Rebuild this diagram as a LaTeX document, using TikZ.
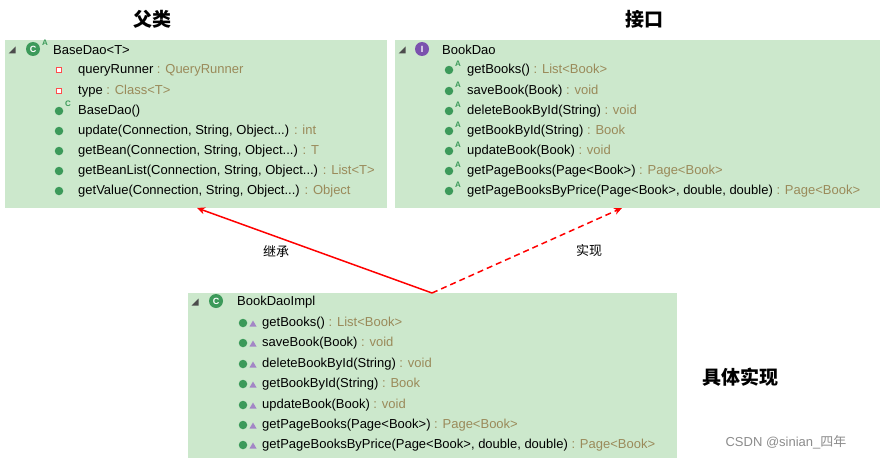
\documentclass[tikz,border=0pt]{standalone}
\usepackage{fontspec}
\setmainfont{Liberation Sans}
\newfontfamily\cjk{Noto Sans CJK SC}
\usetikzlibrary{arrows.meta}
\definecolor{boxg}{HTML}{CCE8CC}
\definecolor{typec}{HTML}{9A8A5A}
\definecolor{meth}{HTML}{3C9A5A}
\definecolor{purp}{HTML}{7B52AE}
\begin{document}
\begin{tikzpicture}[x=1pt,y=-1pt,
  box/.style={fill=boxg,draw=none},
  txt/.style={anchor=west,inner sep=0,font=\fontsize{13}{14}\selectfont},
  mdot/.style={circle,fill=meth,minimum size=8.5pt,inner sep=0},
  fdot/.style={rectangle,draw=red!70,fill=white,minimum size=5pt,inner sep=0,line width=1.3pt},
  tri/.style={fill=purp!70},
  title/.style={font=\cjk\bfseries\fontsize{19}{20}\selectfont,inner sep=0},
  lab/.style={font=\cjk\fontsize{13}{14}\selectfont,inner sep=0},
  sup/.style={font=\fontsize{8}{8}\selectfont\bfseries,text=meth,inner sep=0},
  exp/.style={fill=black!70}]
\useasboundingbox (0,0) rectangle (885,460);
\fill[white] (0,0) rectangle (885,460);
\fill[box] (5,40) rectangle (387,208);
\fill[box] (395,40) rectangle (880,208);
\fill[box] (188,293) rectangle (677,458);
\node[title] (t1) at (152,19) {父类};
\node[title] (t2) at (644,19) {接口};
\node[title] (t3) at (740,377) {具体实现};
% expand triangles
\foreach \x/\y in {12/50,402/50,195/302}{\fill[exp] (\x-3.5,\y+3.5) -- (\x+3.5,\y+3.5) -- (\x+3.5,\y-3.5) -- cycle;}
% BaseDao
\node[circle,fill=meth,minimum size=14pt,inner sep=0,font=\bfseries\fontsize{9}{9}\selectfont,text=white] (ic1) at (33,49) {C};
\node[sup] (ia1) at (45,43) {A};
\node[txt] (h1) at (53,50) {BaseDao<T>};
\node[fdot] (f1) at (59,70) {}; \node[txt] (r11) at (78,70) {queryRunner \textcolor{typec}{: QueryRunner}};
\node[fdot] (f2) at (59,91) {}; \node[txt] (r12) at (78,91) {type \textcolor{typec}{: Class<T>}};
\node[mdot] (d3) at (59,111) {}; \node[sup] (c3) at (68,104) {C};
\node[txt] (r13) at (78,111) {BaseDao()};
\foreach \i/\y/\t in {4/131/{update(Connection, String, Object...) \textcolor{typec}{: int}},
  5/151/{getBean(Connection, String, Object...) \textcolor{typec}{: T}},
  6/171/{getBeanList(Connection, String, Object...) \textcolor{typec}{: List<T>}},
  7/191/{getValue(Connection, String, Object...) \textcolor{typec}{: Object}}}{
  \node[mdot] (d\i) at (59,\y) {}; \node[txt] (r1\i) at (78,\y) {\t};}
% BookDao
\node[circle,fill=purp,minimum size=14pt,inner sep=0,font=\bfseries\fontsize{9}{9}\selectfont,text=white] (ic2) at (422,49) {I};
\node[txt] (h2) at (442,50) {BookDao};
\foreach \i/\y/\t in {1/70/{getBooks() \textcolor{typec}{: List<Book>}},
  2/91/{saveBook(Book) \textcolor{typec}{: void}},
  3/111/{deleteBookById(String) \textcolor{typec}{: void}},
  4/131/{getBookById(String) \textcolor{typec}{: Book}},
  5/151/{updateBook(Book) \textcolor{typec}{: void}},
  6/171/{getPageBooks(Page<Book>) \textcolor{typec}{: Page<Book>}},
  7/191/{getPageBooksByPrice(Page<Book>, double, double) \textcolor{typec}{: Page<Book>}}}{
  \node[mdot] (e\i) at (449,\y) {};
  \node[sup] (ea\i) at (458,\y-6) {A};
  \node[txt] (r2\i) at (467,\y) {\t};}
% BookDaoImpl
\node[circle,fill=meth,minimum size=14pt,inner sep=0,font=\bfseries\fontsize{9}{9}\selectfont,text=white] (ic3) at (216,301) {C};
\node[txt] (h3) at (237,302) {BookDaoImpl};
\foreach \i/\y/\t in {1/323/{getBooks() \textcolor{typec}{: List<Book>}},
  2/343/{saveBook(Book) \textcolor{typec}{: void}},
  3/364/{deleteBookById(String) \textcolor{typec}{: void}},
  4/384/{getBookById(String) \textcolor{typec}{: Book}},
  5/405/{updateBook(Book) \textcolor{typec}{: void}},
  6/425/{getPageBooks(Page<Book>) \textcolor{typec}{: Page<Book>}},
  7/445/{getPageBooksByPrice(Page<Book>, double, double) \textcolor{typec}{: Page<Book>}}}{
  \node[mdot] (g\i) at (243,\y) {};
  \fill[tri] (249.5,\y+3.5) -- (256.5,\y+3.5) -- (253,\y-2.5) -- cycle;
  \node[txt] (r3\i) at (262,\y) {\t};}
% arrows
\coordinate (src) at (432,293);
\coordinate (par) at (197,208);
\coordinate (ifc) at (622,208);
\draw[red,line width=1.5pt,-{Stealth[length=8pt,width=7pt]}] (src) -- (par);
\draw[red,line width=1.5pt,dash pattern=on 6pt off 4pt,-{Stealth[length=8pt,width=7pt]}] (src) -- (ifc);
\node[lab] (l1) at (276,251) {继承};
\node[lab] (l2) at (589,251) {实现};
\node[font=\fontsize{13}{14}\selectfont,text=black!45,inner sep=0] (wm) at (786,442) {CSDN @sinian\_{\cjk 四年}};
\end{tikzpicture}
\end{document}
